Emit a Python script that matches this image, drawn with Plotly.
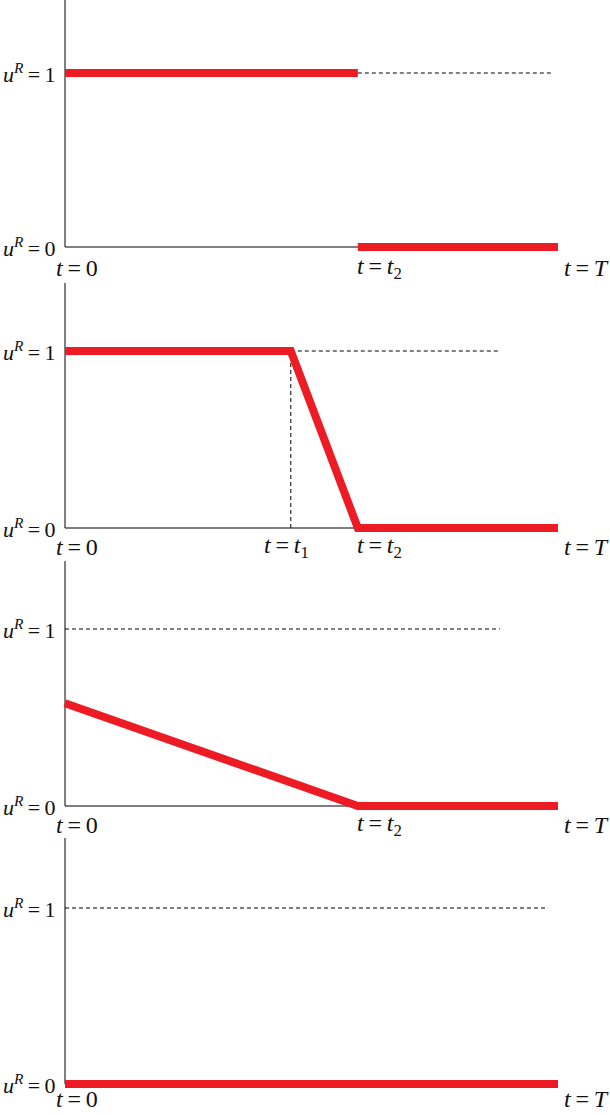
import plotly.graph_objects as go

# ---------------- data ----------------
T = 1.0
t1 = 0.458
t2 = 0.594

# red control curves u^R(t), one per panel
p1_seg_a_t = [0.0, t2]
p1_seg_a_u = [1.0, 1.0]
p1_seg_b_t = [t2, T]
p1_seg_b_u = [0.0, 0.0]

p2_t = [0.0, t1, t2, T]
p2_u = [1.0, 1.0, 0.0, 0.0]

p3_t = [0.0, t2, T]
p3_u = [0.58, 0.0, 0.0]

p4_t = [0.0, T]
p4_u = [0.0, 0.0]

# dashed reference lines (u^R = 1)
dash_h_t = [[t2, 0.988], [t1, 0.882], [0.0, 0.882], [0.0, 0.98]]
dash_h_u = [1.0, 1.0, 1.0, 1.0]
dash_v_t = t1  # vertical dashed guide in panel 2

# top of the vertical axis line in each panel (in u units)
axis_top = [1.42, 1.384, 1.384, 1.398]

# tick labels
EQ = "\u2009=\u2009"
x_labels = [
    [(0.0, "<i>t</i>" + EQ + "0"), (t2, "<i>t</i>" + EQ + "<i>t</i><sub>2</sub>"), (T, "<i>t</i>" + EQ + "<i>T</i>")],
    [(0.0, "<i>t</i>" + EQ + "0"), (t1, "<i>t</i>" + EQ + "<i>t</i><sub>1</sub>"), (t2, "<i>t</i>" + EQ + "<i>t</i><sub>2</sub>"), (T, "<i>t</i>" + EQ + "<i>T</i>")],
    [(0.0, "<i>t</i>" + EQ + "0"), (t2, "<i>t</i>" + EQ + "<i>t</i><sub>2</sub>"), (T, "<i>t</i>" + EQ + "<i>T</i>")],
    [(0.0, "<i>t</i>" + EQ + "0"), (T, "<i>t</i>" + EQ + "<i>T</i>")],
]
y_labels = [(1.0, "<i>u</i><sup><i>R</i></sup>" + EQ + "1"), (0.0, "<i>u</i><sup><i>R</i></sup>" + EQ + "0")]

# ---------------- layout geometry (pixels) ----------------
W, H = 610, 1115
x0_px, xT_px = 65, 558
# per panel: (domain top px, domain bottom px, px of u=0, px of u=1)
panels_px = [(0, 279, 247, 73), (279, 558, 528, 351), (558, 836, 806, 629), (836, 1115, 1084, 908)]
label_yshift = [-21, -19, -19, -15]

RED = "#ED1C24"
INK = "#000000"
FONT = "Liberation Serif, Times New Roman, DejaVu Serif, serif"
FS = 24
FS_Y = 22

fig = go.Figure()
layout = dict(width=W, height=H, margin=dict(l=0, r=0, t=0, b=0),
              plot_bgcolor="white", paper_bgcolor="white", showlegend=False,
              font=dict(family=FONT, size=FS, color="#111"))

xs_per_px = (T - 0.0) / (xT_px - x0_px)
x_range = [-x0_px * xs_per_px, (W - x0_px) * xs_per_px]

shift_x = {"0": 12, "t1": -4, "t2": 22, "T": 28}

annotations = []
for i, (top_px, bot_px, y0_px, y1_px) in enumerate(panels_px):
    k = "" if i == 0 else str(i + 1)
    scale = y0_px - y1_px
    y_range = [(y0_px - bot_px) / scale, (y0_px - top_px) / scale]
    dom = [1 - bot_px / H, 1 - top_px / H]
    layout["xaxis" + k] = dict(range=x_range, domain=[0, 1], visible=False, fixedrange=True)
    layout["yaxis" + k] = dict(range=y_range, domain=dom, visible=False, fixedrange=True)
    xr, yr = "x" + k, "y" + k

    # axis lines
    fig.add_trace(go.Scatter(x=[0.0, 0.0], y=[axis_top[i], 0.0], mode="lines",
                             line=dict(color=INK, width=1), xaxis=xr, yaxis=yr))
    fig.add_trace(go.Scatter(x=[0.0, T], y=[0.0, 0.0], mode="lines",
                             line=dict(color=INK, width=1), xaxis=xr, yaxis=yr))
    # dashed horizontal u=1
    fig.add_trace(go.Scatter(x=dash_h_t[i], y=[dash_h_u[i]] * 2, mode="lines",
                             line=dict(color=INK, width=1, dash="4px,3px"), xaxis=xr, yaxis=yr))
    if i == 1:
        fig.add_trace(go.Scatter(x=[dash_v_t, dash_v_t], y=[0.0, 1.0], mode="lines",
                                 line=dict(color=INK, width=1, dash="4px,3px"), xaxis=xr, yaxis=yr))

    # red curves
    if i == 0:
        curves = [(p1_seg_a_t, p1_seg_a_u), (p1_seg_b_t, p1_seg_b_u)]
    elif i == 1:
        curves = [(p2_t, p2_u)]
    elif i == 2:
        curves = [(p3_t, p3_u)]
    else:
        curves = [(p4_t, p4_u)]
    for ct, cu in curves:
        fig.add_trace(go.Scatter(x=ct, y=cu, mode="lines", line=dict(color=RED, width=8),
                                 xaxis=xr, yaxis=yr))

    # y labels
    for yv, txt in y_labels:
        annotations.append(dict(x=0.0, y=yv, xref=xr, yref=yr, text=txt, showarrow=False,
                                xanchor="right", yanchor="middle", xshift=-7,
                                font=dict(family=FONT, size=FS_Y, color="#111")))
    # x labels
    for xv, txt in x_labels[i]:
        if xv == 0.0:
            s = shift_x["0"]
        elif xv == T:
            s = shift_x["T"]
        elif xv == t1:
            s = shift_x["t1"]
        else:
            s = shift_x["t2"]
        annotations.append(dict(x=xv, y=0.0, xref=xr, yref=yr, text=txt, showarrow=False,
                                xanchor="center", yanchor="middle", xshift=s,
                                yshift=label_yshift[i],
                                font=dict(family=FONT, size=FS, color="#111")))

layout["annotations"] = annotations
fig.update_layout(**layout)
fig.write_html("out.html", config={"displayModeBar": False},
               post_script="document.body.style.margin='0';document.body.style.overflow='hidden';")
